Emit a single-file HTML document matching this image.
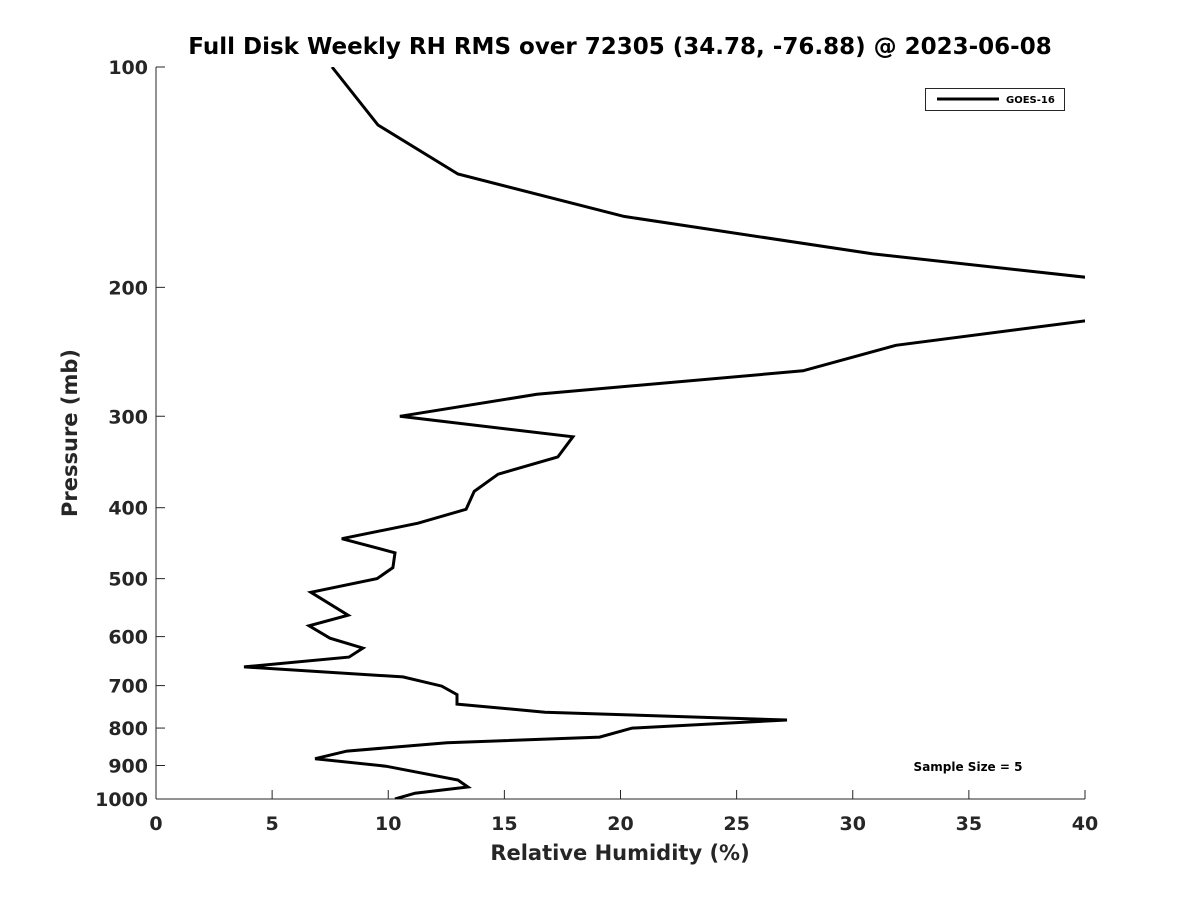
<!DOCTYPE html>
<html><head><meta charset="utf-8"><style>
html,body{margin:0;padding:0;background:#fff;}
svg text{font-family:"DejaVu Sans","Liberation Sans",sans-serif;font-weight:bold;fill:#262626;}
</style></head><body>
<svg id="chart" width="1200" height="900" xmlns="http://www.w3.org/2000/svg">
<defs><clipPath id="plotclip"><rect x="156" y="67" width="929" height="732"/></clipPath></defs>
<rect width="1200" height="900" fill="#fff"/>
<text x="620" y="54" text-anchor="middle" font-size="23" style="fill:#000">Full Disk Weekly RH RMS over 72305 (34.78, -76.88) @ 2023-06-08</text>
<g id="axes"></g>
<path id="series" fill="none" stroke="#000" stroke-width="3" clip-path="url(#plotclip)"/>
<g>
<rect x="925.5" y="88.5" width="139" height="22" fill="#fff" stroke="#262626" stroke-width="1"/>
<line x1="937" y1="99" x2="999" y2="99" stroke="#000" stroke-width="3"/>
<text x="1006" y="103" font-size="10" style="fill:#000">GOES-16</text>
</g>
<text x="968" y="771" text-anchor="middle" font-size="12" style="fill:#000">Sample Size = 5</text>
<text x="620" y="860" text-anchor="middle" font-size="21">Relative Humidity (%)</text>
<text transform="translate(77,433) rotate(-90)" text-anchor="middle" font-size="21">Pressure (mb)</text>
</svg>
<script>
const pressures=[100,120,140,160,180,200,210,240,260,280,300,320,341,360,380,402,420,441,461,483,500,522,561,580,603,622,640,660,681,701,720,742,761,780,800,823,838,860,881,902,942,963,982,1000];
const rhValues=[7.58,9.56,13.0,20.15,30.87,44,46,31.86,27.86,16.4,10.5,17.95,17.3,14.73,13.7,13.35,11.28,8.0,10.29,10.2,9.52,6.67,8.27,6.59,7.49,8.91,8.31,3.79,10.63,12.3,12.96,12.96,16.75,27.17,20.5,19.1,12.53,8.22,6.85,9.9,13.0,13.43,11.15,10.29];
const xTicks=[0,5,10,15,20,25,30,35,40];
const yTicks=[100,200,300,400,500,600,700,800,900,1000];
const L=156,R=1085,T=67,B=799;
const xs=v=>L+(v-0)/40*(R-L);
const ys=p=>T+(Math.log10(p)-2)*(B-T);
const NS='http://www.w3.org/2000/svg';
const axes=document.getElementById('axes');
function mk(tag,attrs){const e=document.createElementNS(NS,tag);for(const k in attrs)e.setAttribute(k,attrs[k]);return e;}
const xl=mk('line',{x1:L,y1:B,x2:R,y2:B,stroke:'#262626','stroke-width':1});


axes.appendChild(xl);
const yl=mk('line',{x1:L,y1:T,x2:L,y2:B,stroke:'#262626','stroke-width':1});


axes.appendChild(yl);
xTicks.forEach(v=>{
  const x=xs(v);
  const t=mk('line',{x1:x,y1:B,x2:x,y2:B-9,stroke:'#262626','stroke-width':1});
  
  
  axes.appendChild(t);
  const tx=mk('text',{x:x,y:B+31,'text-anchor':'middle','font-size':19});
  
  
  tx.textContent=v;axes.appendChild(tx);
});
yTicks.forEach(p=>{
  const y=ys(p);
  const t=mk('line',{x1:L,y1:y,x2:L+9,y2:y,stroke:'#262626','stroke-width':1});
  
  
  axes.appendChild(t);
  const tx=mk('text',{x:L-8,y:y+7,'text-anchor':'end','font-size':19});
  
  
  tx.textContent=p;axes.appendChild(tx);
});
let d='';
pressures.forEach((p,i)=>{d+=(i?'L':'M')+xs(rhValues[i]).toFixed(1)+','+ys(p).toFixed(1);});
document.getElementById('series').setAttribute('d',d);
</script>
</body></html>
